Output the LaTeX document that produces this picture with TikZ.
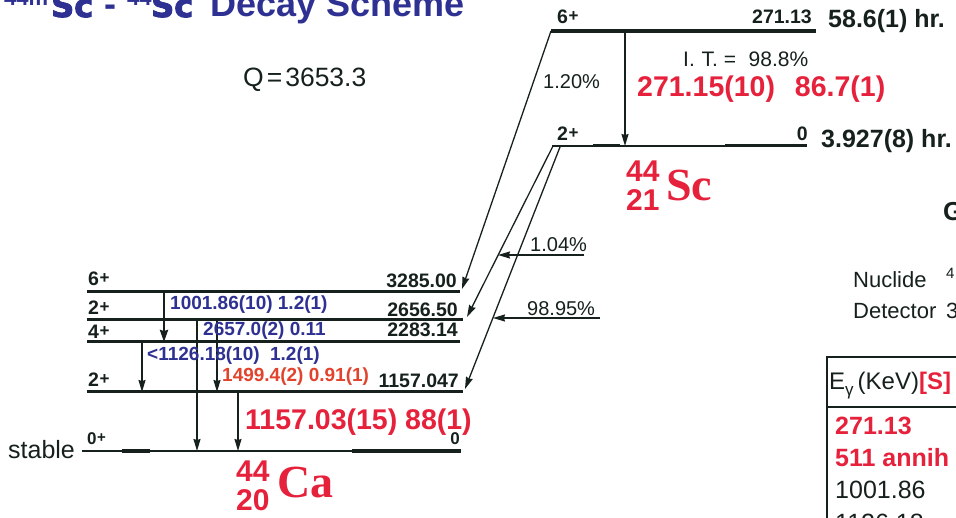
\documentclass[tikz,border=0pt]{standalone}
\usepackage{fontspec}
\setmainfont{Liberation Sans}
\newfontfamily\serifbold{Liberation Serif}
\newfontfamily\heavyfont{DejaVu Sans Bold}[FakeBold=3]
\usetikzlibrary{arrows.meta}
\definecolor{ink}{HTML}{16211D}
\definecolor{tblue}{HTML}{2E3192}
\definecolor{tred}{HTML}{E6213B}
\definecolor{tora}{HTML}{E2432C}
\newcommand\fsz[1]{\fontsize{#1}{#1}\selectfont}
\newcommand\jp[2]{#1\kern0.5pt\raisebox{2pt}{\fsz{#2}+}}
\begin{document}
\begin{tikzpicture}[x=1pt,y=-1pt,
  lev/.style={draw=ink,line width=3pt},
  levthin/.style={draw=ink,line width=2pt},
  tr/.style={draw=ink,line width=1.3pt,-{Stealth[length=12pt,width=7pt,inset=1pt]}},
  trthick/.style={draw=ink,line width=2.4pt,-{Stealth[length=12pt,width=8pt,inset=1pt]}},
  txt/.style={inner sep=0pt,text=ink},
  lvl/.style={txt,font=\bfseries\fsz{19.5}},
  blu/.style={inner sep=0pt,text=tblue,font=\bfseries\fsz{19}},
  bigred/.style={inner sep=0pt,text=tred,font=\bfseries\fsz{28.5}},
  nucnum/.style={inner sep=0pt,text=tred,font=\bfseries\fsz{30}},
  nucsym/.style={inner sep=0pt,text=tred,font=\serifbold\bfseries\fsz{46}},
  ttl/.style={inner sep=0pt,text=tblue,font=\bfseries\fsz{36}},
  ttlsup/.style={inner sep=0pt,text=tblue,font=\bfseries\fsz{22}},
  ttlsc/.style={inner sep=0pt,text=tblue,font=\heavyfont\fsz{32}}]
\clip (0,0) rectangle (956,518);
\fill[white] (0,0) rectangle (956,518);

% ---------- title ----------
\node[ttlsup,anchor=base west] (t1) at (4,6) {44m};
\node[ttlsc,anchor=base west] (t2) at (51,17) {Sc};
\node[ttl,anchor=base west] (t3) at (104,17) {-};
\node[ttlsup,anchor=base west] (t4) at (127,6) {44};
\node[ttlsc,anchor=base west] (t5) at (151,17) {Sc};
\node[ttl,anchor=base west] (t6) at (210,17) {Decay Scheme};

\node[txt,anchor=base west,font=\fsz{26.5}] (q) at (243,87) {Q\kern3pt=\kern3pt3653.3};

% ---------- Sc levels ----------
\coordinate (s6L) at (551,31); \coordinate (s6R) at (816,31);
\coordinate (s2L) at (552,146); \coordinate (s2R) at (807,146);
\draw[lev,line width=3.5pt] (s6L) -- (s6R);
\draw[levthin] (s2L) -- (s2R);
\draw[lev] (593,146) -- (620,146);
\draw[lev] (725,146) -- (s2R);

\node[lvl,anchor=base west] (s6j) at (557,24) {\jp{6}{17}};
\node[lvl,anchor=base east] (s6e) at (812,24) {271.13};
\node[txt,anchor=base west,font=\bfseries\fsz{25}] (s6t) at (828,28) {58.6(1) hr.};
\node[lvl,anchor=base west] (s2j) at (557,141) {\jp{2}{17}};
\node[lvl,anchor=base east] (s2e) at (808,141) {0};
\node[txt,anchor=base west,font=\bfseries\fsz{25}] (s2t) at (821,148) {3.927(8) hr.};

\node[txt,anchor=base west,font=\fsz{21}] (it) at (683,67) {I.\kern1pt\ T.\ =\hspace{0.6em}98.8\%};
\node[bigred,anchor=base west] (itg) at (637,97) {271.15(10)\hspace{0.7em}86.7(1)};
\node[txt,anchor=base west,font=\fsz{20}] (b1p) at (543,89) {1.20\%};

\coordinate (it1) at (625,31); \coordinate (it2) at (625,146);
\draw[tr,line width=1.5pt] (it1) -- (it2);

\node[nucnum,anchor=base west] (sca) at (626,182) {44};
\node[nucnum,anchor=base west] (scz) at (626,211) {21};
\node[nucsym,anchor=base west] (scs) at (666,201) {Sc};

% ---------- Ca levels ----------
\coordinate (c6L) at (87,292); \coordinate (c6R) at (460,292);
\coordinate (c2aL) at (87,320); \coordinate (c2aR) at (463,320);
\coordinate (c4L) at (87,342); \coordinate (c4R) at (460,342);
\coordinate (c2bL) at (87,392); \coordinate (c2bR) at (463,392);
\coordinate (c0L) at (82,451); \coordinate (c0R) at (461,451);
\draw[lev] (c6L) -- (c6R);
\draw[lev] (c2aL) -- (c2aR);
\draw[lev] (c4L) -- (c4R);
\draw[lev] (c2bL) -- (c2bR);
\draw[levthin,line width=2.4pt] (c0L) -- (c0R);
\draw[lev,line width=3.6pt] (122,451) -- (150,451);
\draw[lev,line width=3.6pt] (352,451) -- (c0R);

\node[lvl,anchor=base west] (l6j) at (88,286) {\jp{6}{17}};
\node[lvl,anchor=base east] (l6e) at (457,288) {3285.00};
\node[lvl,anchor=base west] (l2aj) at (88,315) {\jp{2}{17}};
\node[lvl,anchor=base east] (l2ae) at (458,317) {2656.50};
\node[lvl,anchor=base west] (l4j) at (88,339) {\jp{4}{17}};
\node[lvl,anchor=base east] (l4e) at (458,337) {2283.14};
\node[lvl,anchor=base west] (l2bj) at (88,387) {\jp{2}{17}};
\node[lvl,anchor=base east] (l2be) at (459,388) {1157.047};
\node[txt,anchor=base west,font=\bfseries\fsz{17}] (l0j) at (87,445) {\jp{0}{15}};
\node[txt,anchor=base east,font=\bfseries\fsz{17}] (l0e) at (460,445) {0};
\node[txt,anchor=base west,font=\fsz{25}] (stb) at (8,458) {stable};

% ---------- gamma transitions in Ca ----------
\coordinate (g1a) at (164,292); \coordinate (g1b) at (164,342);
\coordinate (g2a) at (197,320); \coordinate (g2b) at (197,451);
\coordinate (g3a) at (142,342); \coordinate (g3b) at (142,392);
\coordinate (g4a) at (217,320); \coordinate (g4b) at (217,392);
\coordinate (g5a) at (238,392); \coordinate (g5b) at (238,451);
\draw[trthick] (g1a) -- (g1b);
\draw[tr] (g2a) -- (g2b);
\draw[tr] (g3a) -- (g3b);
\draw[tr] (g4a) -- (g4b);
\draw[tr] (g5a) -- (g5b);

\node[blu,anchor=base west] (g1l) at (170,310) {1001.86(10) 1.2(1)};
\node[blu,anchor=base west] (g2l) at (203,336) {2657.0(2) 0.11};
\node[blu,anchor=base west] (g3l) at (147,361) {<1126.18(10)\hspace{0.55em}1.2(1)};
\node[inner sep=0pt,text=tora,font=\bfseries\fsz{19},anchor=base west] (g4l) at (222,382) {1499.4(2) 0.91(1)};
\node[bigred,anchor=base west] (g5l) at (245,429) {1157.03(15) 88(1)};

\node[nucnum,anchor=base west] (caa) at (236,482) {44};
\node[nucnum,anchor=base west] (caz) at (236,510) {20};
\node[nucsym,anchor=base west] (cas) at (277,497) {Ca};

% ---------- beta decays ----------
\coordinate (b1e) at (462,289);
\coordinate (b2s) at (553,146); \coordinate (b2e) at (467,317);
\coordinate (b3s) at (560,147); \coordinate (b3e) at (465,389);
\draw[tr] (s6L) -- (b1e);
\draw[tr] (b2s) -- (b2e);
\draw[tr] (b3s) -- (b3e);

\coordinate (r1s) at (584,255); \coordinate (r1e) at (498,255);
\coordinate (r2s) at (600,318); \coordinate (r2e) at (493,318);
\draw[tr] (r1s) -- (r1e);
\draw[tr] (r2s) -- (r2e);
\node[txt,anchor=base west,font=\fsz{20}] (r1l) at (530,252) {1.04\%};
\node[txt,anchor=base west,font=\fsz{20}] (r2l) at (527,316) {98.95\%};

% ---------- right side ----------
\node[txt,anchor=base west,font=\bfseries\fsz{26}] (gg) at (943,221) {G};
\node[txt,anchor=base west,font=\fsz{22}] (nuc) at (853,288) {Nuclide};
\node[txt,anchor=base west,font=\fsz{15}] (nuc4) at (946,279) {4};
\node[txt,anchor=base west,font=\fsz{22}] (det) at (853,319) {Detector};
\node[txt,anchor=base west,font=\fsz{22}] (det3) at (946,319) {3};

\draw[ink,line width=2pt] (827,540) -- (827,357) -- (970,357);
\draw[ink,line width=2pt] (827,407) -- (970,407);
\node[txt,anchor=base west,font=\fsz{24}] (hdr) at (829,390) {E\raisebox{-6pt}{\fsz{17}γ}\kern4pt(KeV)\textcolor{tred}{\bfseries[S]}};
\node[inner sep=0pt,text=tred,font=\bfseries\fsz{25},anchor=base west] (row1) at (835,435) {271.13};
\node[inner sep=0pt,text=tred,font=\bfseries\fsz{25},anchor=base west] (row2) at (835,467) {511 annih};
\node[txt,anchor=base west,font=\fsz{25}] (row3) at (835,498) {1001.86};
\node[txt,anchor=base west,font=\fsz{25}] (row4) at (835,531) {1126.18};
\end{tikzpicture}
\end{document}
